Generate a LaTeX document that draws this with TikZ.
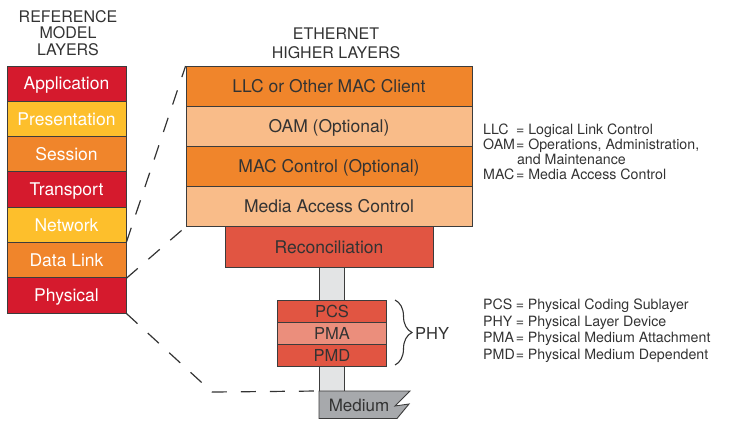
\documentclass[tikz,border=0pt]{standalone}
\usepackage{fontspec}
\setmainfont{TeX Gyre Heros}
\usetikzlibrary{decorations.pathreplacing}

\definecolor{osired}{HTML}{D51A2D}
\definecolor{osiyellow}{HTML}{FDBF2C}
\definecolor{osiorange}{HTML}{F0852B}
\definecolor{ethpeach}{HTML}{F9BC89}
\definecolor{phyred}{HTML}{E15542}
\definecolor{phypink}{HTML}{EB8E7C}
\definecolor{medgray}{HTML}{A7A9AC}
\definecolor{colgray}{HTML}{E3E4E5}
\definecolor{edge}{HTML}{3C3C3C}
\definecolor{ink}{HTML}{333333}

\begin{document}
\begin{tikzpicture}[x=1pt,y=-1pt,
  osibox/.style={draw=edge, line width=0.9pt, minimum width=119pt,
    minimum height=35.3pt, inner sep=0pt, text=white,
    font=\fontsize{17.5}{19}\selectfont, text height=12.6pt, text depth=0pt},
  ethbox/.style={draw=edge, line width=0.9pt, minimum width=286pt,
    minimum height=40pt, inner sep=0pt, text=ink,
    font=\fontsize{17.5}{19}\selectfont, text height=12.6pt, text depth=0pt},
  phybox/.style={draw=edge, line width=0.9pt, minimum width=109pt,
    minimum height=22.2pt, inner sep=0pt, text=ink, fill=phyred,
    font=\fontsize{16.5}{18}\selectfont, text height=11.9pt, text depth=0pt},
  heading/.style={align=center, text=ink, inner sep=0pt},
  legend/.style={text=ink, inner sep=0pt, anchor=west},
  guide/.style={draw=ink, line width=1.2pt, dash pattern=on 15pt off 14pt},
]
\useasboundingbox (0,0) rectangle (730,420);

% headings
\node[heading, font=\fontsize{16}{16.5}\selectfont] (osititle) at (68,33)
  {REFERENCE\\MODEL\\LAYERS};
\node[heading, font=\fontsize{16}{19}\selectfont] (ethtitle) at (336,43)
  {ETHERNET\\HIGHER LAYERS};

% seven-layer reference model
\node[osibox, fill=osired]    (app)  at (66.5,83.6)  {Application};
\node[osibox, fill=osiyellow] (pres) at (66.5,118.9) {Presentation};
\node[osibox, fill=osiorange] (sess) at (66.5,154.2) {Session};
\node[osibox, fill=osired]    (trans) at (66.5,189.5) {Transport};
\node[osibox, fill=osiyellow] (net)  at (66.5,224.8) {Network};
\node[osibox, fill=osiorange] (dl)   at (66.5,260.1) {Data Link};
\node[osibox, fill=osired]    (phys) at (66.5,295.4) {Physical};

% physical-layer signal column
\draw[draw=edge, line width=0.9pt, fill=colgray] (319.5,267.5) rectangle (344.5,391);

% Ethernet stack
\node[ethbox, fill=osiorange] (llc)  at (329,86.5)  {LLC or Other MAC Client};
\node[ethbox, fill=ethpeach]  (oam)  at (329,126.5) {OAM (Optional)};
\node[ethbox, fill=osiorange] (macc) at (329,166.5) {MAC Control (Optional)};
\node[ethbox, fill=ethpeach]  (mac)  at (329,206.5) {Media Access Control};
\node[ethbox, fill=phyred, minimum width=208pt, minimum height=41pt] (rec)
  at (329,247) {Reconciliation};

% PHY sublayers
\node[phybox] (pcs) at (332,311.1) {PCS};
\node[phybox, fill=phypink] (pma) at (332,333.3) {PMA};
\node[phybox] (pmd) at (332,355.5) {PMD};

% medium
\draw[draw=edge, line width=0.9pt, fill=medgray]
  (319,391) -- (410,391) -- (395,406) -- (409,404) -- (397,418.5) -- (319,418.5) -- cycle;
\coordinate (medtl) at (319,391);
\node[text=ink, inner sep=0pt, font=\fontsize{17}{19}\selectfont,
  text height=12.2pt, text depth=0pt] (medium) at (359,405) {Medium};

% PHY brace
\coordinate (bracetop) at (395,300);
\coordinate (bracebot) at (395,365);
\draw[draw=ink, line width=1.1pt, decorate, decoration={brace, amplitude=17pt}]
  (bracetop) -- (bracebot);
\node[text=ink, inner sep=0pt, anchor=west, font=\fontsize{16.5}{18}\selectfont,
  text height=11.9pt, text depth=0pt] (phy) at (415,333.5) {PHY};

% correspondence guides
\coordinate (bend) at (212,392);
\draw[guide] (dl.north east) -- (llc.north west);
\draw[guide] (dl.south east) -- (mac.south west);
\draw[guide] (phys.south east) -- (bend) -- (medtl);

% abbreviation keys
\node[legend, font=\fontsize{14.2}{15}\selectfont] (keymac) at (483,154)
  {\begin{tabular}{@{}l@{\hspace{1pt}}l@{}}
   LLC & = Logical Link Control\\
   OAM & = Operations, Administration,\\
       & \hspace{1pt}and Maintenance\\
   MAC & = Media Access Control
   \end{tabular}};
\node[legend, font=\fontsize{14.2}{16.5}\selectfont] (keyphy) at (483,331)
  {\begin{tabular}{@{}l@{\hspace{1pt}}l@{}}
   PCS & = Physical Coding Sublayer\\
   PHY & = Physical Layer Device\\
   PMA & = Physical Medium Attachment\\
   PMD & = Physical Medium Dependent
   \end{tabular}};
\end{tikzpicture}
\end{document}
